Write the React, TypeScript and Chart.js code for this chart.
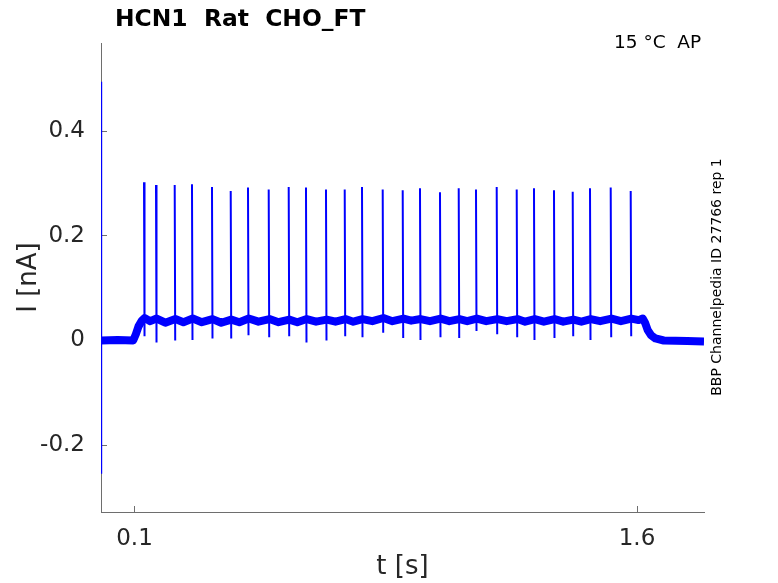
import React, { useEffect, useRef } from "react";
import { Chart, registerables } from "chart.js";

Chart.register(...registerables);

const FONT = "'DejaVu Sans', 'Liberation Sans', sans-serif";

// Axis ticks
const xTicks = [0.1, 1.6];
const xTickLabels = ["0.1", "1.6"];
const yTicks = [-0.2, 0, 0.2, 0.4];
const yTickLabels = ["-0.2", "0", "0.2", "0.4"];

// Annotations
const titleText = "HCN1  Rat  CHO_FT";
const conditionText = "15 °C  AP";
const sideText = "BBP Channelpedia ID 27766 rep 1";

// Initial capacitive transient (t in s, I in nA)
const transientT = [0.0006, 0.0009, 0.0013, 0.0018];
const transientI = [0.0, 0.495, -0.255, 0.0];

// Baseline / holding current envelope (t in s, I in nA)
const bandT = [
  0.0, 0.05, 0.096, 0.104, 0.112, 0.122, 0.13, 0.147, 0.166, 0.192, 0.222, 0.246,
  0.274, 0.301, 0.333, 0.359, 0.389, 0.413, 0.441, 0.47, 0.503, 0.53, 0.562, 0.586,
  0.614, 0.642, 0.674, 0.7, 0.73, 0.753, 0.781, 0.81, 0.843, 0.87, 0.903, 0.926,
  0.954, 0.982, 1.014, 1.04, 1.07, 1.093, 1.122, 1.15, 1.183, 1.211, 1.243, 1.266,
  1.295, 1.322, 1.354, 1.38, 1.41, 1.434, 1.462, 1.49, 1.524, 1.552, 1.583, 1.605,
  1.617, 1.624, 1.632, 1.642, 1.655, 1.68, 1.75, 1.8,
];
const bandI = [
  0.0, 0.001, 0.0, 0.012, 0.027, 0.038, 0.043, 0.037, 0.042, 0.034, 0.041, 0.035,
  0.042, 0.035, 0.041, 0.034, 0.04, 0.035, 0.042, 0.036, 0.041, 0.035, 0.04, 0.035,
  0.041, 0.036, 0.04, 0.036, 0.041, 0.036, 0.041, 0.037, 0.043, 0.037, 0.042, 0.038,
  0.041, 0.037, 0.042, 0.037, 0.041, 0.037, 0.042, 0.037, 0.041, 0.037, 0.041, 0.036,
  0.041, 0.036, 0.041, 0.036, 0.04, 0.036, 0.041, 0.037, 0.042, 0.037, 0.042, 0.039,
  0.042, 0.034, 0.02, 0.01, 0.004, 0.0, -0.001, -0.002,
];

// Action-current spikes: times, peak values and after-spike troughs
const spikeT = [
  0.1284, 0.1642, 0.22, 0.2716, 0.3313, 0.3872, 0.4388, 0.5006, 0.5603, 0.6119,
  0.6716, 0.7275, 0.7791, 0.8409, 0.9006, 0.9522, 1.0119, 1.0678, 1.1194, 1.1812,
  1.2409, 1.2925, 1.3522, 1.4081, 1.4597, 1.5215, 1.5812,
];
const spikePeak = [
  0.3027, 0.2975, 0.2975, 0.2989, 0.2937, 0.2861, 0.2924, 0.2886, 0.2937, 0.2924,
  0.2886, 0.2886, 0.2937, 0.2886, 0.2874, 0.2912, 0.2836, 0.2912, 0.2886, 0.2937,
  0.2886, 0.2912, 0.2874, 0.2847, 0.2912, 0.2924, 0.2861,
];
const spikeTrough = [
  0.008, -0.004, 0.0, 0.001, 0.004, 0.004, 0.01, 0.006, 0.008, -0.004, 0.0, 0.008,
  0.006, 0.015, 0.005, 0.001, 0.006, 0.005, 0.018, 0.012, 0.006, 0.001, 0.005,
  0.008, 0.001, 0.006, 0.008,
];

const TRACE = "#0000ff";
const AXIS = "#6e6e6e";
const TEXT = "#262626";

const textPlugin = {
  id: "annotText",
  afterDraw(chart: any) {
    const ctx = chart.ctx;
    ctx.save();
    ctx.fillStyle = "#000000";
    ctx.textAlign = "left";
    ctx.textBaseline = "alphabetic";
    ctx.font = `bold 23.4px ${FONT}`;
    ctx.fillText(titleText, 115, 26);
    ctx.font = `18.5px ${FONT}`;
    ctx.fillText(conditionText, 614, 48);
    ctx.translate(721, 277);
    ctx.rotate(-Math.PI / 2);
    ctx.textAlign = "center";
    ctx.font = `14px ${FONT}`;
    ctx.fillText(sideText, 0, 0);
    ctx.restore();
  },
};

export default function App() {
  const ref = useRef<HTMLCanvasElement | null>(null);

  useEffect(() => {
    if (!ref.current) return;
    const spikeData: any[] = [];
    spikeT.forEach((t, i) => {
      spikeData.push({ x: t, y: spikePeak[i] });
      spikeData.push({ x: t + 0.0015, y: spikeTrough[i] });
      spikeData.push({ x: t + 0.0016, y: null });
    });
    const chart = new Chart(ref.current, {
      type: "line",
      data: {
        datasets: [
          {
            label: "baseline",
            data: bandT.map((t, i) => ({ x: t, y: bandI[i] })),
            borderColor: TRACE,
            borderWidth: 8,
            pointRadius: 0,
            tension: 0,
            borderJoinStyle: "round",
          },
          {
            label: "spikes",
            data: spikeData,
            borderColor: TRACE,
            borderWidth: 2,
            pointRadius: 0,
            tension: 0,
            spanGaps: false,
          },
          {
            label: "transient",
            data: transientT.map((t, i) => ({ x: t, y: transientI[i] })),
            borderColor: TRACE,
            borderWidth: 1.5,
            pointRadius: 0,
            tension: 0,
          },
        ],
      },
      options: {
        animation: false,
        responsive: false,
        devicePixelRatio: 1,
        layout: { padding: { left: 0, top: 43, right: 74, bottom: 0 } },
        plugins: { legend: { display: false }, tooltip: { enabled: false } },
        scales: {
          x: {
            type: "linear",
            min: 0,
            max: 1.8,
            afterBuildTicks: (s: any) => {
              s.ticks = xTicks.map((v) => ({ value: v }));
            },
            afterFit: (s: any) => {
              s.height = 71;
            },
            grid: {
              display: true,
              drawOnChartArea: false,
              drawTicks: true,
              tickLength: -6,
              color: AXIS,
              lineWidth: 1,
            },
            border: { display: true, color: AXIS, width: 1 },
            ticks: {
              padding: 19,
              color: TEXT,
              autoSkip: false,
              maxRotation: 0,
              font: { size: 23, family: FONT },
              callback: (v: any) => xTickLabels[xTicks.indexOf(Number(v))] ?? "",
            },
            title: {
              display: true,
              text: "t [s]",
              color: TEXT,
              font: { size: 26, family: FONT },
              padding: { top: 0, bottom: 0 },
            },
          },
          y: {
            type: "linear",
            min: -0.328,
            max: 0.569,
            afterBuildTicks: (s: any) => {
              s.ticks = yTicks.map((v) => ({ value: v }));
            },
            afterFit: (s: any) => {
              s.width = 101;
            },
            grid: {
              display: true,
              drawOnChartArea: false,
              drawTicks: true,
              tickLength: -6,
              color: AXIS,
              lineWidth: 1,
            },
            border: { display: true, color: AXIS, width: 1 },
            ticks: {
              padding: 22,
              color: TEXT,
              autoSkip: false,
              font: { size: 23, family: FONT },
              callback: (v: any) => {
                const i = yTicks.findIndex((t) => Math.abs(t - Number(v)) < 1e-9);
                return i >= 0 ? yTickLabels[i] : "";
              },
            },
            title: {
              display: true,
              text: "I [nA]",
              color: TEXT,
              font: { size: 26, family: FONT },
              padding: { top: 13.5, bottom: 0 },
            },
          },
        },
      },
      plugins: [textPlugin],
    });
    return () => chart.destroy();
  }, []);

  return (
    <div style={{ position: "absolute", left: 0, top: 0, width: 778, height: 583, background: "#ffffff" }}>
      <canvas ref={ref} width={778} height={583} style={{ display: "block" }} />
    </div>
  );
}
